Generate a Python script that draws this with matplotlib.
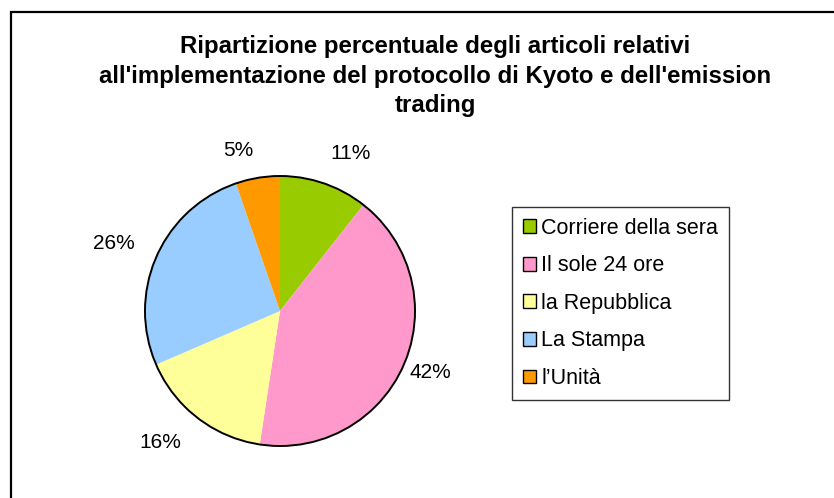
import matplotlib
matplotlib.use("Agg")
import numpy as np
import matplotlib.pyplot as plt
from matplotlib.patches import Patch, Rectangle, Circle

categories = ["Corriere della sera", "Il sole 24 ore", "la Repubblica", "La Stampa", "l\u2019Unit\u00e0"]
values = [10.6, 41.8, 16.1, 26.2, 5.3]
pct_labels = ["11%", "42%", "16%", "26%", "5%"]
colors = ["#99CC00", "#FF99CC", "#FFFF99", "#99CCFF", "#FF9900"]
title = ("Ripartizione percentuale degli articoli relativi\n"
         "all'implementazione del protocollo di Kyoto e dell'emission\n"
         "trading")

# label placement (layout only): radial distance and angular nudge per label
label_radius = [1.276, 1.204, 1.315, 1.328, 1.227]
label_shift_deg = [-5.1, 1.3, -4.7, 1.8, 4.9]

plt.rcParams['font.family'] = ['Liberation Sans', 'DejaVu Sans']

W, H = 834, 498
fig = plt.figure(figsize=(W / 100, H / 100), dpi=100)

# outer border (only top & left visible)
fig.patches.append(Rectangle((11 / W, -0.1), 1.2, (H - 12) / H + 0.1, transform=fig.transFigure,
                             fill=False, edgecolor="black", linewidth=1.6))

cx, cy, r = 280, 311, 135
ax = fig.add_axes([(cx - r) / W, (H - cy - r) / H, 2 * r / W, 2 * r / H])
wedges, _ = ax.pie(values, colors=colors, startangle=90, counterclock=False, radius=1,
                   wedgeprops=dict(linewidth=0, edgecolor="none"))
ax.add_patch(Circle((0, 0), 1, fill=False, edgecolor="black", linewidth=1.4, clip_on=False))
for w, lab, d, s in zip(wedges, pct_labels, label_radius, label_shift_deg):
    mid = np.deg2rad((w.theta1 + w.theta2) / 2 + s)
    ax.text(d * np.cos(mid), d * np.sin(mid), lab, ha="center", va="center",
            fontsize=15, color="black")
ax.set_xlim(-1, 1)
ax.set_ylim(-1, 1)
ax.set_aspect("equal")
ax.axis("off")

fig.text(435 / W, 1 - 35.5 / H, title, ha="center", va="top", fontsize=17.3, fontweight="bold",
         linespacing=1.36)

handles = [Patch(facecolor=c, edgecolor="black", linewidth=1) for c in colors]
leg = fig.legend(handles, categories, loc="upper left",
                 bbox_to_anchor=(512 / W, 1 - 207 / H), bbox_transform=fig.transFigure,
                 fontsize=15.5, frameon=True, fancybox=False, handlelength=0.6,
                 handleheight=0.6, handletextpad=0.25, labelspacing=0.77,
                 borderpad=0.5, borderaxespad=0)
leg.get_frame().set_edgecolor("black")
leg.get_frame().set_linewidth(1.0)

fig.savefig("out.png", dpi=100)
